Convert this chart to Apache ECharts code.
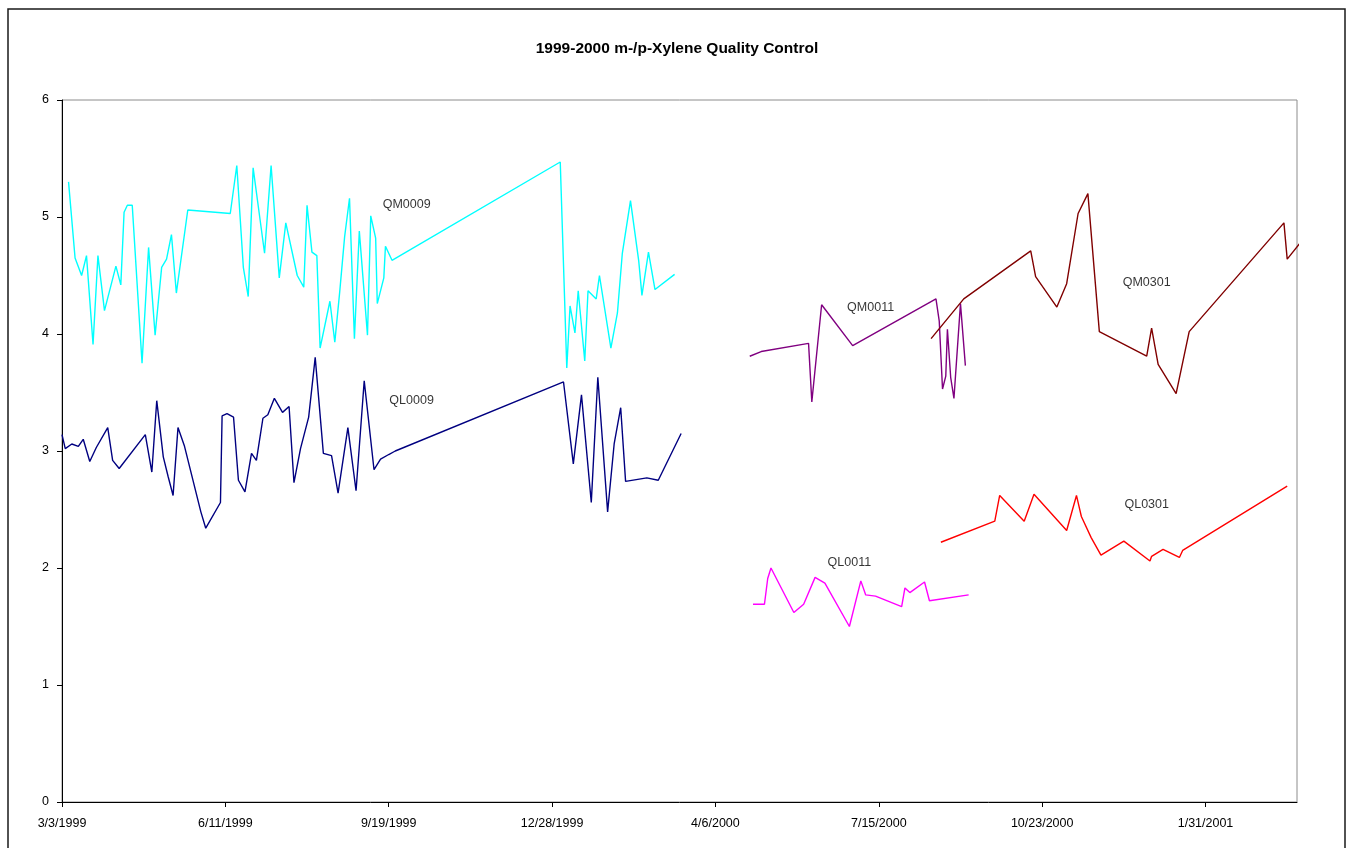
<!DOCTYPE html>
<html>
<head>
<meta charset="utf-8">
<title>1999-2000 m-/p-Xylene Quality Control</title>
<script src="https://cdn.jsdelivr.net/npm/echarts@6/dist/echarts.min.js"></script>
<style>
  html, body { margin: 0; padding: 0; background: #fff; }
  #chart { width: 1354px; height: 848px; }
</style>
</head>
<body>
<div id="chart"></div>
<script>
// x values are days counted from 3/3/1999; y values are concentrations.
const START_DATE = [1999, 2, 3];

const QM0009 = [
  [4,5.30],[8,4.65],[12,4.50],[15,4.67],[19,3.91],[22,4.67],[26,4.20],[33,4.58],[36,4.42],
  [38,5.04],[40,5.10],[43,5.10],[49,3.75],[53,4.74],[57,3.99],[61,4.57],[64,4.64],[67,4.85],
  [70,4.35],[77,5.06],[103,5.03],[107,5.44],[111,4.57],[114,4.32],[117,5.42],[124,4.69],
  [128,5.44],[133,4.48],[137,4.95],[144,4.50],[148,4.40],[150,5.10],[153,4.70],[156,4.67],
  [158,3.88],[164,4.28],[167,3.93],[170,4.36],[173,4.83],[176,5.16],[179,3.96],[182,4.88],
  [187,3.99],[189,5.01],[192,4.82],[193,4.26],[197,4.48],[198,4.75],[202,4.63],[305,5.47],
  [309,3.71],[311,4.24],[314,4.01],[316,4.37],[320,3.77],[322,4.37],[327,4.30],[329,4.50],
  [336,3.88],[340,4.18],[343,4.69],[348,5.14],[353,4.63],[355,4.33],[359,4.70],[363,4.38],
  [375,4.51]
];

const QL0009 = [
  [0,3.14],[2,3.02],[6,3.06],[10,3.04],[13,3.10],[17,2.91],[21,3.03],[28,3.20],[31,2.92],
  [35,2.85],[51,3.14],[55,2.82],[58,3.43],[62,2.95],[65,2.78],[68,2.62],[71,3.20],[75,3.04],
  [85,2.48],[88,2.34],[97,2.56],[98,3.30],[101,3.32],[105,3.29],[108,2.75],[112,2.65],
  [116,2.98],[119,2.92],[123,3.28],[126,3.31],[130,3.45],[135,3.33],[139,3.38],[142,2.73],
  [146,3.02],[151,3.29],[155,3.80],[160,2.98],[165,2.96],[169,2.64],[175,3.20],[180,2.66],
  [185,3.60],[191,2.84],[195,2.93],[200,2.97],[204,3.00],[307,3.59],[313,2.89],[318,3.48],
  [324,2.56],[328,3.63],[334,2.48],[338,3.06],[342,3.37],[345,2.74],[358,2.77],[365,2.75],
  [379,3.15]
];

const QM0011 = [
  [421,3.81],[428,3.85],[457,3.92],[459,3.42],[465,4.25],[484,3.90],[535,4.30],[537,4.11],
  [539,3.53],[541,3.64],[542,4.04],[544,3.63],[546,3.45],[550,4.26],[553,3.73]
];

const QL0011 = [
  [423,1.69],[430,1.69],[432,1.91],[434,2.00],[448,1.62],[454,1.69],[455,1.68],[461,1.92],
  [467,1.87],[482,1.50],[489,1.89],[492,1.77],[498,1.76],[514,1.67],[516,1.83],[519,1.79],
  [528,1.88],[531,1.72],[555,1.77]
];

const QM0301 = [
  [532,3.96],[552,4.30],[593,4.71],[596,4.49],[609,4.23],[615,4.43],[622,5.03],[628,5.20],
  [635,4.02],[664,3.81],[667,4.05],[671,3.74],[682,3.49],[690,4.02],[748,4.95],[750,4.64],
  [758,4.78]
];

const QL0301 = [
  [538,2.22],[571,2.40],[574,2.62],[589,2.40],[595,2.63],[615,2.32],[621,2.62],[624,2.44],
  [630,2.26],[636,2.11],[650,2.23],[666,2.06],[667,2.10],[674,2.16],[684,2.09],[686,2.15],
  [750,2.70]
];

// Series name labels, placed in data coordinates (day, value)
const seriesLabels = [
  [211, 5.11, 'QM0009'],
  [214, 3.43, 'QL0009'],
  [495, 4.23, 'QM0011'],
  [664, 4.44, 'QM0301'],
  [664, 2.54, 'QL0301'],
  [482, 2.05, 'QL0011']
];

const xTicks = [0, 100, 200, 300, 400, 500, 600, 700];
const yTicks = [0, 1, 2, 3, 4, 5, 6];
const X_MAX = 756;

const seriesList = [
  { name: 'QM0009', data: QM0009, color: '#00FFFF' },
  { name: 'QL0009', data: QL0009, color: '#000080' },
  { name: 'QM0011', data: QM0011, color: '#800080' },
  { name: 'QL0011', data: QL0011, color: '#FF00FF' },
  { name: 'QM0301', data: QM0301, color: '#800000' },
  { name: 'QL0301', data: QL0301, color: '#FF0000' }
];

function dayLabel(v) {
  const d = new Date(START_DATE[0], START_DATE[1], START_DATE[2] + Math.round(v));
  return (d.getMonth() + 1) + '/' + d.getDate() + '/' + d.getFullYear();
}

const FONT = '"Liberation Sans", Arial, Helvetica, sans-serif';
const chart = echarts.init(document.getElementById('chart'), null, { renderer: 'canvas' });

chart.setOption({
  animation: false,
  backgroundColor: '#ffffff',
  textStyle: { fontFamily: FONT },
  title: {
    text: '1999-2000 m-/p-Xylene Quality Control',
    left: 'center',
    top: 36,
    textStyle: { fontFamily: FONT, fontSize: 15.5, fontWeight: 'bold', color: '#000' }
  },
  graphic: [{
    type: 'rect',
    shape: { x: 8, y: 9, width: 1337, height: 850 },
    style: { fill: 'none', stroke: '#1a1a1a', lineWidth: 1.5 },
    silent: true,
    z: 100
  }],
  grid: {
    left: 62, top: 100, right: 57, bottom: 46,
    show: true,
    borderColor: '#8c8c8c',
    borderWidth: 1,
    backgroundColor: '#ffffff'
  },
  xAxis: {
    type: 'value',
    min: 0,
    max: X_MAX,
    interval: 100,
    splitLine: { show: false },
    axisLine: { show: true, onZero: false, lineStyle: { color: '#000', width: 1 } },
    axisTick: { show: true, length: 5, lineStyle: { color: '#000' }, customValues: xTicks },
    axisLabel: {
      customValues: xTicks,
      formatter: dayLabel,
      color: '#000',
      fontSize: 12.5,
      fontFamily: FONT,
      margin: 15
    }
  },
  yAxis: {
    type: 'value',
    min: 0,
    max: 6,
    interval: 1,
    splitLine: { show: false },
    axisLine: { show: true, onZero: false, lineStyle: { color: '#000', width: 1 } },
    axisTick: { show: true, length: 5, lineStyle: { color: '#000' } },
    axisLabel: {
      formatter: v => String(yTicks[v] !== undefined ? yTicks[v] : v),
      color: '#000',
      fontSize: 12.5,
      fontFamily: FONT,
      margin: 13
    }
  },
  series: seriesList.map(s => ({
    name: s.name,
    type: 'line',
    data: s.data,
    showSymbol: false,
    symbol: 'none',
    clip: true,
    lineStyle: { color: s.color, width: 1.4 },
    itemStyle: { color: s.color }
  })).concat([{
    name: 'labels',
    type: 'scatter',
    symbolSize: 0,
    data: seriesLabels,
    silent: true,
    label: {
      show: true,
      position: 'inside',
      formatter: p => p.data[2],
      color: '#000',
      fontSize: 12.5,
      fontFamily: FONT
    }
  }])
});
</script>
</body>
</html>
